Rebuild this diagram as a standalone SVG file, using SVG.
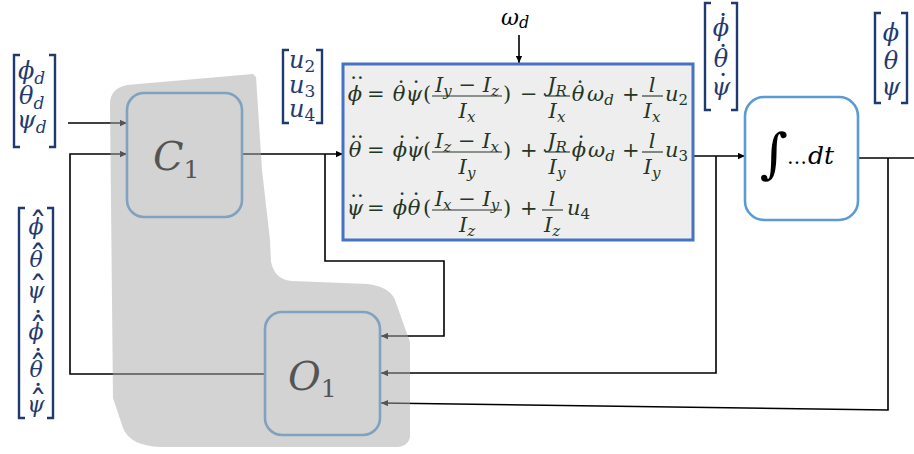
<svg xmlns="http://www.w3.org/2000/svg" width="914" height="454" viewBox="0 0 914 454">
<defs>
<marker id="ah" viewBox="0 0 10 10" refX="10" refY="5" markerWidth="9" markerHeight="7" markerUnits="userSpaceOnUse" orient="auto"><path d="M0,0.5 L10,5 L0,9.5 Z" fill="#000"/></marker>
</defs>
<style>
.ln{fill:none;stroke:#000;stroke-width:1.6}
.eq{font-family:"DejaVu Serif",serif;font-size:21px;fill:#243524}
.it{font-style:italic}
.up{font-style:normal}
.sb{font-size:15px}
.dt{font-family:"DejaVu Serif",serif;font-size:21px;fill:#243524;text-anchor:middle}
.bar{stroke:#243524;stroke-width:1.1}
.vec{font-family:"DejaVu Serif",serif;font-style:italic;font-size:24px;fill:#1f3a70}
.vec2{font-family:"DejaVu Serif",serif;font-style:italic;font-size:22px;fill:#1f3a70;text-anchor:middle}
.vd{font-family:"DejaVu Serif",serif;font-size:24px;fill:#1f3a70;text-anchor:middle}
.vh{font-family:"DejaVu Serif",serif;font-size:36px;fill:#1f3a70;text-anchor:middle}
.vs{font-size:17px}
.br{fill:none;stroke:#1f3a70;stroke-width:2.4}
.box{fill:#fff;stroke:#5b9bd5;stroke-width:2.6}
.lbl{font-family:"DejaVu Serif",serif;fill:#000}
</style>
<rect width="914" height="454" fill="#fff"/>

<g id="connectors">
<path class="ln" d="M68,123 H127" marker-end="url(#ah)"/>
<path class="ln" d="M265,374 H70 V154 H127" marker-end="url(#ah)"/>
<path class="ln" d="M242,154 H343" marker-end="url(#ah)"/>
<path class="ln" d="M325,154 V261 H444 V336 H381" marker-end="url(#ah)"/>
<path class="ln" d="M519,35 V63" marker-end="url(#ah)"/>
<path class="ln" d="M692,156 H745" marker-end="url(#ah)"/>
<path class="ln" d="M716,156 V373 H381" marker-end="url(#ah)"/>
<path class="ln" d="M858,158 H914"/>
<path class="ln" d="M888,158 V410 L381,403" marker-end="url(#ah)"/>
</g>

<g id="vec-desired">
<path class="br" d="M20,55 H14 V147 H20 M49,55 H55 V147 H49"/>
<text class="vec" x="18" y="79">&#x3D5;<tspan class="vs" dy="5">d</tspan></text>
<text class="vec" x="19" y="104">&#x3B8;<tspan class="vs" dy="5">d</tspan></text>
<text class="vec" x="17" y="128">&#x3C8;<tspan class="vs" dy="5">d</tspan></text>
</g>

<g id="vec-estimates">
<path class="br" d="M25,208 H19 V418 H25 M47,208 H53 V418 H47"/>
<text class="vec2" x="36" y="234">&#x3D5;</text>
<text class="vh" x="38" y="238">&#x2C6;</text>
<text class="vec2" x="36" y="267">&#x3B8;</text>
<text class="vh" x="38" y="271">&#x2C6;</text>
<text class="vec2" x="36" y="298">&#x3C8;</text>
<text class="vh" x="38" y="302">&#x2C6;</text>
<text class="vec2" x="36" y="339">&#x3D5;</text>
<text class="vh" x="38" y="343">&#x2C6;</text>
<text class="vd" x="38" y="313">.</text>
<text class="vec2" x="36" y="377">&#x3B8;</text>
<text class="vh" x="38" y="381">&#x2C6;</text>
<text class="vd" x="38" y="351">.</text>
<text class="vec2" x="36" y="412">&#x3C8;</text>
<text class="vh" x="38" y="416">&#x2C6;</text>
<text class="vd" x="38" y="386">.</text>
</g>

<g id="vec-u">
<path class="br" d="M289,50 H283 V123 H289 M316,50 H322 V123 H316"/>
<text class="vec" x="289" y="68">u<tspan class="vs up" dy="4">2</tspan></text>
<text class="vec" x="289" y="93">u<tspan class="vs up" dy="4">3</tspan></text>
<text class="vec" x="289" y="117">u<tspan class="vs up" dy="4">4</tspan></text>
</g>

<g id="vec-rates">
<path class="br" d="M711,3 H705 V110 H711 M731,3 H737 V110 H731"/>
<text class="vec" text-anchor="middle" x="721" y="36">&#x3D5;</text>
<text class="vd" x="723" y="16">.</text>
<text class="vec" text-anchor="middle" x="721" y="67">&#x3B8;</text>
<text class="vd" x="723" y="47">.</text>
<text class="vec" text-anchor="middle" x="721" y="95">&#x3C8;</text>
<text class="vd" x="723" y="76">.</text>
</g>

<g id="vec-out">
<path class="br" d="M881,13 H875 V103 H881 M901,13 H907 V103 H901"/>
<text class="vec" text-anchor="middle" x="891" y="41">&#x3D5;</text>
<text class="vec" text-anchor="middle" x="891" y="69">&#x3B8;</text>
<text class="vec" text-anchor="middle" x="891" y="95">&#x3C8;</text>
</g>

<g id="omega-d">
<text class="lbl" font-style="italic" font-size="22" x="501" y="25" fill="#222">&#x3C9;<tspan font-size="16" dy="3">d</tspan></text>
</g>

<g id="C1">
<rect class="box" x="127" y="93" width="115" height="124" rx="17"/>
<text class="lbl" font-style="italic" font-size="40" x="153" y="170">C<tspan font-style="normal" font-size="25" dy="8">1</tspan></text>
</g>

<g id="O1">
<rect class="box" x="265" y="312" width="115" height="123" rx="17"/>
<text class="lbl" font-style="italic" font-size="40" x="288" y="390">O<tspan font-style="normal" font-size="25" dy="7">1</tspan></text>
</g>

<g id="dynamics">
<rect x="343" y="64" width="350" height="176" fill="#eeeeee" stroke="#4472c4" stroke-width="3"/>
<!-- equation 1 -->
<text class="eq it" text-anchor="middle" x="355" y="101">&#x3D5;</text>
<text class="dt" x="357" y="79">..</text>
<text class="eq" x="367" y="101">=</text>
<text class="eq it" text-anchor="middle" x="399" y="101">&#x3B8;</text>
<text class="dt" x="401" y="83">.</text>
<text class="eq it" text-anchor="middle" x="414" y="101">&#x3C8;</text>
<text class="dt" x="416" y="83">.</text>
<text class="eq" x="423" y="101">(</text>
<text class="eq it" text-anchor="middle" x="467" y="92">I<tspan class="sb" dy="4">y</tspan><tspan class="up" dy="-4"> &#x2212; </tspan>I<tspan class="sb" dy="4">z</tspan></text>
<line class="bar" x1="432" y1="96" x2="502" y2="96"/>
<text class="eq it" text-anchor="middle" x="467" y="118">I<tspan class="sb" dy="4">x</tspan></text>
<text class="eq" x="503" y="101">)</text>
<text class="eq" x="520" y="101">&#x2212;</text>
<text class="eq it" text-anchor="middle" x="557" y="92">J<tspan class="sb" dy="4">R</tspan></text>
<line class="bar" x1="545" y1="96" x2="570" y2="96"/>
<text class="eq it" text-anchor="middle" x="557" y="118">I<tspan class="sb" dy="4">x</tspan></text>
<text class="eq it" text-anchor="middle" x="578" y="101">&#x3B8;</text>
<text class="dt" x="580" y="83">.</text>
<text class="eq it" x="587" y="101">&#x3C9;<tspan class="sb" dy="4">d</tspan></text>
<text class="eq" x="622" y="101">+</text>
<text class="eq it" text-anchor="middle" x="652" y="92">l</text>
<line class="bar" x1="642" y1="96" x2="663" y2="96"/>
<text class="eq it" text-anchor="middle" x="652" y="118">I<tspan class="sb" dy="4">x</tspan></text>
<text class="eq it" x="665" y="101">u<tspan class="sb up" dy="4">2</tspan></text>
<!-- equation 2 -->
<text class="eq it" text-anchor="middle" x="355" y="157">&#x3B8;</text>
<text class="dt" x="357" y="138">..</text>
<text class="eq" x="367" y="157">=</text>
<text class="eq it" text-anchor="middle" x="400" y="157">&#x3D5;</text>
<text class="dt" x="402" y="138">.</text>
<text class="eq it" text-anchor="middle" x="415" y="157">&#x3C8;</text>
<text class="dt" x="417" y="139">.</text>
<text class="eq" x="423" y="157">(</text>
<text class="eq it" text-anchor="middle" x="467" y="148">I<tspan class="sb" dy="4">z</tspan><tspan class="up" dy="-4"> &#x2212; </tspan>I<tspan class="sb" dy="4">x</tspan></text>
<line class="bar" x1="432" y1="152" x2="502" y2="152"/>
<text class="eq it" text-anchor="middle" x="467" y="174">I<tspan class="sb" dy="4">y</tspan></text>
<text class="eq" x="503" y="157">)</text>
<text class="eq" x="520" y="157">+</text>
<text class="eq it" text-anchor="middle" x="557" y="148">J<tspan class="sb" dy="4">R</tspan></text>
<line class="bar" x1="545" y1="152" x2="570" y2="152"/>
<text class="eq it" text-anchor="middle" x="557" y="174">I<tspan class="sb" dy="4">y</tspan></text>
<text class="eq it" text-anchor="middle" x="579" y="157">&#x3D5;</text>
<text class="dt" x="581" y="138">.</text>
<text class="eq it" x="588" y="157">&#x3C9;<tspan class="sb" dy="4">d</tspan></text>
<text class="eq" x="622" y="157">+</text>
<text class="eq it" text-anchor="middle" x="652" y="148">l</text>
<line class="bar" x1="642" y1="152" x2="663" y2="152"/>
<text class="eq it" text-anchor="middle" x="652" y="174">I<tspan class="sb" dy="4">y</tspan></text>
<text class="eq it" x="665" y="157">u<tspan class="sb up" dy="4">3</tspan></text>
<!-- equation 3 -->
<text class="eq it" text-anchor="middle" x="355" y="215">&#x3C8;</text>
<text class="dt" x="357" y="197">..</text>
<text class="eq" x="367" y="215">=</text>
<text class="eq it" text-anchor="middle" x="400" y="215">&#x3D5;</text>
<text class="dt" x="402" y="195">.</text>
<text class="eq it" text-anchor="middle" x="414" y="215">&#x3B8;</text>
<text class="dt" x="416" y="195">.</text>
<text class="eq" x="423" y="215">(</text>
<text class="eq it" text-anchor="middle" x="467" y="206">I<tspan class="sb" dy="4">x</tspan><tspan class="up" dy="-4"> &#x2212; </tspan>I<tspan class="sb" dy="4">y</tspan></text>
<line class="bar" x1="432" y1="210" x2="502" y2="210"/>
<text class="eq it" text-anchor="middle" x="467" y="232">I<tspan class="sb" dy="4">z</tspan></text>
<text class="eq" x="503" y="215">)</text>
<text class="eq" x="520" y="215">+</text>
<text class="eq it" text-anchor="middle" x="552" y="206">l</text>
<line class="bar" x1="542" y1="210" x2="563" y2="210"/>
<text class="eq it" text-anchor="middle" x="552" y="232">I<tspan class="sb" dy="4">z</tspan></text>
<text class="eq it" x="567" y="215">u<tspan class="sb up" dy="4">4</tspan></text>
</g>

<g id="integrator">
<rect class="box" x="745" y="97" width="113" height="123" rx="19" stroke-width="3"/>
<text class="lbl" font-size="54" x="760" y="172">&#x222B;</text>
<text class="lbl" font-size="20" x="787" y="164">&#x2026;</text>
<text class="lbl" font-size="25" font-style="italic" x="808" y="164">dt</text>
</g>

<g id="observer-controller-region">
<path d="M110,104 C110,94 116,87 127,85 L253,74 L256,77 L262,170 L270,240 L271,262 C274,275 281,280 292,281 L368,284 C383,286 392,292 395,300 L410,342 L410,436 C410,442 405,446 398,447 L160,447 C140,446 128,440 123,428 L113,398 Z" fill="#a8a8a8" fill-opacity="0.5"/>
</g>
</svg>
